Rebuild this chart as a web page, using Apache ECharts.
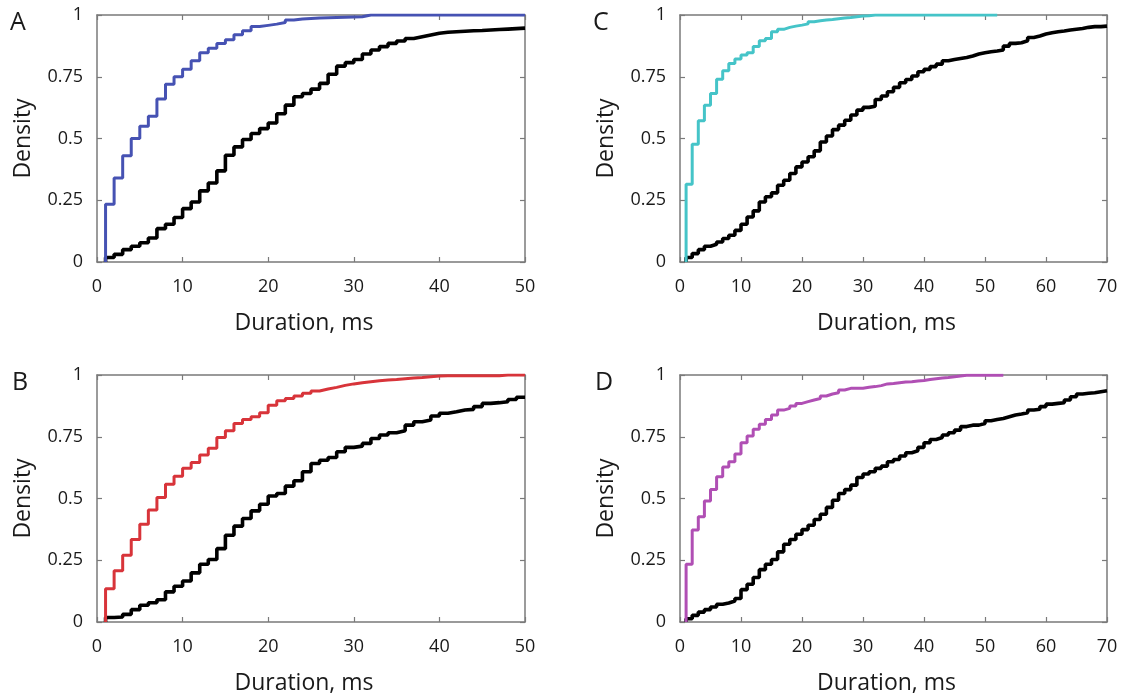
<!DOCTYPE html>
<html>
<head>
<meta charset="utf-8">
<script src="https://cdn.jsdelivr.net/npm/echarts@6/dist/echarts.min.js"></script>
<style>
  html, body { margin: 0; padding: 0; background: #fff; }
  #container1 { width: 1122px; height: 698px; }
</style>
</head>
<body>
<div id="container1"></div>
<script>
// cumulative density per 1 ms bin, first bin starts at 1 ms
var panelNames = ['A', 'B', 'C', 'D'];
var xMaxA = 50, xMaxC = 70;
var xTicksA = [0, 10, 20, 30, 40, 50];
var xTicksC = [0, 10, 20, 30, 40, 50, 60, 70];
var yTicks = [0, 0.25, 0.5, 0.75, 1];

var blueA = [0.234, 0.34, 0.43, 0.5, 0.55, 0.59, 0.66, 0.72, 0.75, 0.78, 0.815, 0.847, 0.865, 0.885, 0.90,
  0.92, 0.936, 0.953, 0.958, 0.963, 0.97, 0.98, 0.984, 0.986, 0.988, 0.989, 0.99, 0.991, 0.992, 0.993,
  1, 1, 1, 1, 1, 1, 1, 1, 1, 1, 1, 1, 1, 1, 1, 1, 1, 1, 1];
var blackA = [0.018, 0.031, 0.05, 0.064, 0.078, 0.097, 0.135, 0.153, 0.18, 0.216, 0.243, 0.288, 0.32, 0.369, 0.432,
  0.466, 0.496, 0.52, 0.54, 0.563, 0.60, 0.635, 0.669, 0.682, 0.70, 0.723, 0.76, 0.793, 0.807, 0.82,
  0.842, 0.858, 0.872, 0.885, 0.895, 0.905, 0.912, 0.919, 0.926, 0.93, 0.932, 0.934, 0.936, 0.937, 0.939,
  0.941, 0.943, 0.945, 0.947];

var redB = [0.135, 0.207, 0.27, 0.334, 0.396, 0.453, 0.504, 0.558, 0.59, 0.622, 0.646, 0.676, 0.703, 0.747, 0.774,
  0.804, 0.82, 0.831, 0.847, 0.878, 0.896, 0.905, 0.915, 0.926, 0.935, 0.943, 0.95, 0.958, 0.964, 0.969,
  0.973, 0.977, 0.98, 0.982, 0.985, 0.988, 0.99, 0.993, 0.996, 0.997, 0.997, 0.997, 0.997, 0.997, 0.997,
  0.997, 1, 1, 1];
var blackB = [0.018, 0.02, 0.031, 0.05, 0.068, 0.078, 0.09, 0.122, 0.145, 0.166, 0.199, 0.234, 0.253, 0.297, 0.351,
  0.388, 0.419, 0.45, 0.477, 0.51, 0.52, 0.55, 0.572, 0.608, 0.642, 0.655, 0.666, 0.689, 0.707, 0.712,
  0.723, 0.743, 0.757, 0.766, 0.774, 0.797, 0.811, 0.818, 0.834, 0.845, 0.851, 0.858, 0.861, 0.872, 0.885,
  0.888, 0.892, 0.901, 0.91];

var cyanC = [0.315, 0.477, 0.572, 0.635, 0.682, 0.74, 0.774, 0.804, 0.822, 0.838, 0.847, 0.872, 0.896, 0.905, 0.932,
  0.942, 0.95, 0.955, 0.959, 0.964, 0.973, 0.977, 0.98, 0.982, 0.985, 0.988, 0.99, 0.993, 0.996, 0.997,
  1, 1, 1, 1, 1, 1, 1, 1, 1, 1, 1, 1, 1, 1, 1, 1, 1, 1, 1, 1, 1];
var blackC = [0.018, 0.034, 0.05, 0.064, 0.072, 0.081, 0.095, 0.108, 0.128, 0.153, 0.182, 0.207, 0.243, 0.264, 0.28,
  0.311, 0.331, 0.358, 0.385, 0.405, 0.426, 0.45, 0.486, 0.51, 0.536, 0.554, 0.574, 0.595, 0.615, 0.626,
  0.631, 0.658, 0.672, 0.689, 0.707, 0.726, 0.739, 0.753, 0.77, 0.78, 0.791, 0.801, 0.815, 0.82, 0.824,
  0.828, 0.834, 0.842, 0.847, 0.851, 0.854, 0.858, 0.874, 0.885, 0.888, 0.896, 0.909, 0.915, 0.923, 0.928,
  0.932, 0.935, 0.939, 0.942, 0.945, 0.95, 0.953, 0.953, 0.955];

var magentaD = [0.234, 0.372, 0.426, 0.49, 0.536, 0.588, 0.628, 0.649, 0.68, 0.726, 0.753, 0.78, 0.801, 0.82, 0.838,
  0.858, 0.865, 0.874, 0.885, 0.892, 0.899, 0.905, 0.915, 0.923, 0.928, 0.939, 0.946, 0.946, 0.946, 0.95,
  0.953, 0.957, 0.964, 0.966, 0.969, 0.972, 0.973, 0.976, 0.978, 0.982, 0.985, 0.988, 0.99, 0.993, 0.996,
  0.999, 0.999, 0.999, 0.999, 0.999, 0.999, 0.999];
var blackD = [0.013, 0.027, 0.04, 0.05, 0.061, 0.072, 0.077, 0.085, 0.095, 0.131, 0.153, 0.18, 0.212, 0.234, 0.253,
  0.284, 0.315, 0.334, 0.355, 0.374, 0.392, 0.415, 0.436, 0.464, 0.493, 0.52, 0.536, 0.554, 0.585, 0.599,
  0.608, 0.622, 0.631, 0.649, 0.658, 0.672, 0.685, 0.693, 0.707, 0.726, 0.739, 0.747, 0.757, 0.766, 0.777,
  0.791, 0.797, 0.797, 0.804, 0.815, 0.82, 0.824, 0.831, 0.838, 0.842, 0.847, 0.858, 0.861, 0.872, 0.882,
  0.885, 0.888, 0.899, 0.912, 0.923, 0.926, 0.928, 0.932, 0.936];

var colorBlue = '#4652b3', colorRed = '#d8343a', colorCyan = '#45c4c8', colorMagenta = '#b04fb4';
var font = "'Open Sans', 'Noto Sans', sans-serif";
var textColor = '#1a1a1a';
var frameColor = '#7a7a7a';

// step data: jump from 0 at 1 ms, hold each bin value for 1 ms
function toSteps(vals, xEnd) {
  var out = [[1, 0]];
  for (var i = 0; i < vals.length; i++) {
    out.push([i + 1, vals[i]]);
  }
  out.push([xEnd, vals[vals.length - 1]]);
  return out;
}

var grids = [
  { left: 97, top: 15, width: 428, height: 247 },
  { left: 97, top: 375, width: 428, height: 247 },
  { left: 680, top: 15, width: 427, height: 247 },
  { left: 680, top: 375, width: 427, height: 247 }
];
var xMaxes = [xMaxA, xMaxA, xMaxC, xMaxC];

var xAxes = [], yAxes = [];
for (var g = 0; g < 4; g++) {
  var line = { show: true, onZero: false, lineStyle: { color: frameColor, width: 1.5 } };
  var tick = { show: true, inside: true, length: 5, lineStyle: { color: frameColor, width: 1.2 } };
  xAxes.push({
    type: 'value', gridIndex: g, min: 0, max: xMaxes[g], interval: 10, position: 'bottom',
    axisLine: line, axisTick: tick, splitLine: { show: false },
    axisLabel: { fontSize: 18, color: textColor, fontFamily: font, margin: 16 },
    name: 'Duration, ms', nameLocation: 'middle', nameGap: 50,
    nameTextStyle: { fontSize: 23, color: textColor, fontFamily: font, padding: [0, 14, 0, 0] }
  });
  xAxes.push({
    type: 'value', gridIndex: g, min: 0, max: xMaxes[g], interval: 10, position: 'top',
    axisLine: line, axisTick: tick, splitLine: { show: false }, axisLabel: { show: false }
  });
  yAxes.push({
    type: 'value', gridIndex: g, min: 0, max: 1, interval: 0.25, position: 'left',
    axisLine: line, axisTick: tick, splitLine: { show: false },
    axisLabel: { fontSize: 18, color: textColor, fontFamily: font, margin: 14 },
    name: 'Density', nameLocation: 'middle', nameGap: 62,
    nameTextStyle: { fontSize: 23, color: textColor, fontFamily: font }
  });
  yAxes.push({
    type: 'value', gridIndex: g, min: 0, max: 1, interval: 0.25, position: 'right',
    axisLine: line, axisTick: tick, splitLine: { show: false }, axisLabel: { show: false }
  });
}

function stepSeries(g, vals, xEnd, color, width) {
  return {
    type: 'line', step: 'end', xAxisIndex: g * 2, yAxisIndex: g * 2,
    data: toSteps(vals, xEnd), showSymbol: false, symbol: 'none', silent: true,
    lineStyle: { color: color, width: width }
  };
}

var series = [
  stepSeries(0, blackA, 50, '#000', 3.6),
  stepSeries(0, blueA, 50, colorBlue, 3),
  stepSeries(1, blackB, 50, '#000', 3.6),
  stepSeries(1, redB, 50, colorRed, 3),
  stepSeries(2, blackC, 70, '#000', 3.6),
  stepSeries(2, cyanC, 52, colorCyan, 3),
  stepSeries(3, blackD, 70, '#000', 3.6),
  stepSeries(3, magentaD, 53, colorMagenta, 3)
];

var letterPos = [[10, 10], [12, 370], [593, 10], [595, 370]];
var graphics = [];
for (var p = 0; p < 4; p++) {
  graphics.push({
    type: 'text', left: letterPos[p][0], top: letterPos[p][1],
    style: { text: panelNames[p], fontSize: 25, fill: textColor, fontFamily: font }
  });
}

var dom = document.getElementById('container1');
var myChart = echarts.init(dom, null, { renderer: 'canvas' });
var option = {
  animation: false,
  backgroundColor: '#fff',
  grid: grids,
  xAxis: xAxes,
  yAxis: yAxes,
  series: series,
  graphic: graphics
};
myChart.setOption(option, true);
</script>
</body>
</html>
